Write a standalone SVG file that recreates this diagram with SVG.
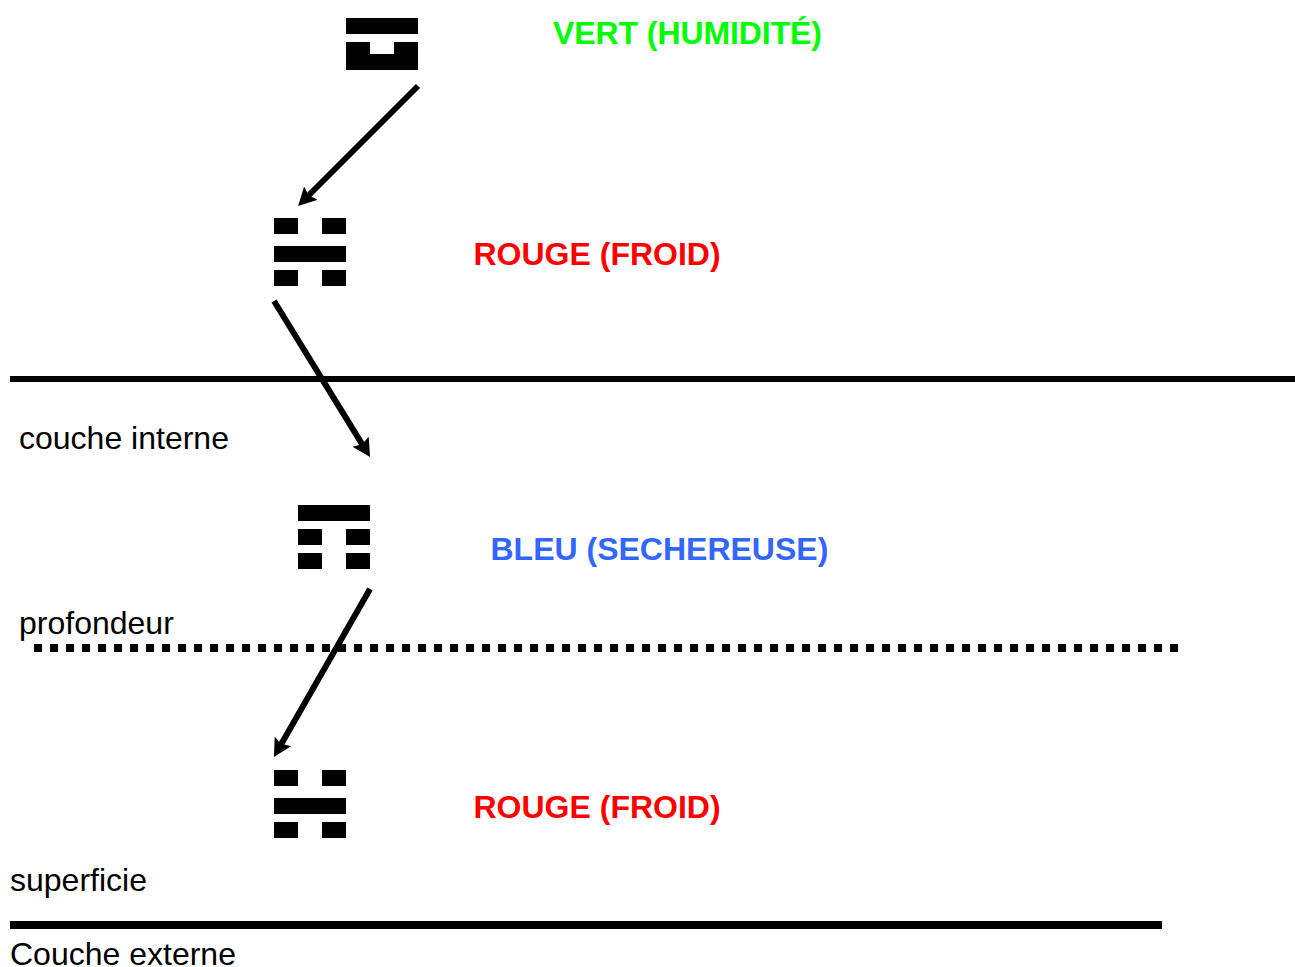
<svg xmlns="http://www.w3.org/2000/svg" width="1295" height="967" viewBox="0 0 1295 967">
<style>
text{font-family:"Liberation Sans",Arial,sans-serif;font-size:32px}
.b{font-weight:bold}
.k{fill:#000}
.a{stroke:#000;stroke-width:6;fill:none;marker-end:url(#h)}
</style>
<defs>
<marker id="h" markerUnits="userSpaceOnUse" markerWidth="20" markerHeight="20" refX="4" refY="9.5" orient="auto"><path d="M0 0L18 9.5L0 19L3 9.5Z" fill="#000"/></marker>
<g id="yin-yang-yin" class="k"><rect x="0" y="0" width="24" height="16"/><rect x="48" y="0" width="24" height="16"/><rect x="0" y="28" width="72" height="16"/><rect x="0" y="52" width="24" height="16"/><rect x="48" y="52" width="24" height="16"/></g>
</defs>
<rect width="1295" height="967" fill="#fff"/>
<g id="layers">
<rect x="10" y="376" width="1285" height="6"/>
<path d="M34 648H1179" stroke="#000" stroke-width="8" stroke-dasharray="8 8" fill="none"/>
<rect x="10" y="921" width="1152" height="8"/>
</g>
<g id="connectors">
<path class="a" d="M418 86L308 196"/>
<path class="a" d="M274 301L362.700 445.100"/>
<path class="a" d="M370 589L280.900 744.800"/>
</g>
<g id="node-vert"><path class="k" d="M346 18h72v16h-72zM346 42h24v12h24v-12h24v28h-72z"/><text class="b" x="553" y="44" fill="#00ff00" textLength="269">VERT (HUMIDITÉ)</text></g>
<g id="node-rouge1"><use href="#yin-yang-yin" x="274" y="218"/><text class="b" x="473.500" y="265" fill="#ff0000">ROUGE (FROID)</text></g>
<g id="node-bleu"><path class="k" d="M298 505h72v16h-72zM298 529h24v16h-24zM346 529h24v16h-24zM298 553h24v16h-24zM346 553h24v16h-24z"/><text class="b" x="490.500" y="560" fill="#3366ff">BLEU (SECHEREUSE)</text></g>
<g id="node-rouge2"><use href="#yin-yang-yin" x="274" y="770"/><text class="b" x="473.500" y="818" fill="#ff0000">ROUGE (FROID)</text></g>
<g id="labels">
<text x="19" y="449">couche interne</text>
<text x="19" y="633.500">profondeur</text>
<text x="10" y="891">superficie</text>
<text x="10" y="965">Couche externe</text>
</g>
</svg>
